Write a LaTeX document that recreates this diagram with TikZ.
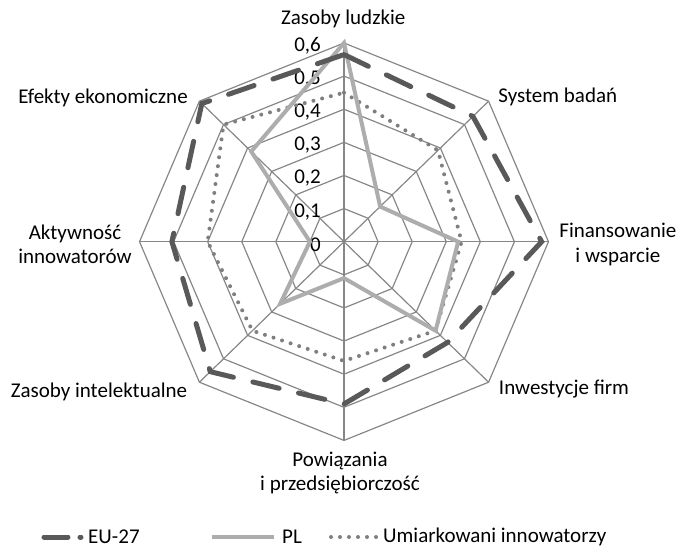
\documentclass[tikz,border=0pt]{standalone}
\usepackage{fontspec}
\setmainfont{Carlito}
\usepackage{tikz}
\usetikzlibrary{calc,positioning}
\definecolor{gridgray}{HTML}{878787}
\definecolor{eugray}{HTML}{595959}
\definecolor{plgray}{HTML}{ADADAD}
\definecolor{umgray}{HTML}{7F7F7F}

\begin{document}
\begin{tikzpicture}[x=340.8pt,y=331.2pt,
  gridline/.style={draw=gridgray,line width=1.2pt},
  euline/.style={draw=eugray,line width=5pt,dash pattern=on 27pt off 20pt,line cap=round},
  plline/.style={draw=plgray,line width=4pt},
  umline/.style={draw=umgray,line width=4pt,dash pattern=on 0pt off 9pt,line cap=round},
  axlabel/.style={font=\fontsize{21}{24.5}\selectfont,align=center,inner sep=0pt},
  ticklabel/.style={font=\fontsize{21}{24.5}\selectfont,anchor=east,inner sep=0pt}]
\useasboundingbox (-344pt,-306.3pt) rectangle (335pt,241.7pt);
\coordinate (O) at (0,0);
\foreach \i [evaluate=\i as \r using \i/10] in {1,...,6}
  \draw[gridline] (0:\r) -- (45:\r) -- (90:\r) -- (135:\r) -- (180:\r) -- (225:\r) -- (270:\r) -- (315:\r) -- cycle;
\foreach \a in {0,45,...,315}
  \draw[gridline] (O) -- (\a:0.6) coordinate (ax\a);
\foreach \i in {0,...,6}
  \node[ticklabel] (tick\i) at ($(0,\i/10)+(-23pt,-3pt)$) {\ifnum\i=0 0\else 0,\i\fi};
\foreach \v [count=\k from 0] in {0.565,0.535,0.58,0.43,0.49,0.555,0.505,0.59}
  \coordinate (eu\k) at ({90-45*\k}:\v);
\foreach \v [count=\k from 0] in {0.60,0.15,0.335,0.38,0.11,0.265,0.10,0.385}
  \coordinate (pl\k) at ({90-45*\k}:\v);
\foreach \v [count=\k from 0] in {0.45,0.39,0.345,0.38,0.36,0.38,0.40,0.50}
  \coordinate (um\k) at ({90-45*\k}:\v);
\draw[umline] (um0) -- (um1) -- (um2) -- (um3) -- (um4) -- (um5) -- (um6) -- (um7) -- cycle;
\draw[plline] (pl0) -- (pl1) -- (pl2) -- (pl3) -- (pl4) -- (pl5) -- (pl6) -- (pl7) -- cycle;
\draw[euline] (eu0) -- (eu1) -- (eu2) -- (eu3) -- (eu4) -- (eu5) -- (eu6) -- (eu7) -- cycle;
\node[axlabel] (zl) at (-0.7pt,222.7pt) {Zasoby ludzkie};
\node[axlabel] (sb) at (213.8pt,144.4pt) {System badań};
\node[axlabel] (fw) at (273.9pt,-2.7pt) {Finansowanie\\i wsparcie};
\node[axlabel] (if) at (220pt,-147.3pt) {Inwestycje firm};
\node[axlabel] (pp) at (-4pt,-231.3pt) {Powiązania\\i przedsiębiorczość};
\node[axlabel] (zi) at (-245pt,-150pt) {Zasoby intelektualne};
\node[axlabel] (ai) at (-269pt,-2.5pt) {Aktywność\\innowatorów};
\node[axlabel] (ee) at (-241pt,143.4pt) {Efekty ekonomiczne};
\coordinate (leu1) at (-300pt,-295.3pt);
\coordinate (leu2) at (-263pt,-295.3pt);
\coordinate (lpl1) at (-132pt,-295.3pt);
\coordinate (lpl2) at (-70pt,-295.3pt);
\coordinate (lum1) at (-13pt,-295.3pt);
\coordinate (lum2) at (32pt,-295.3pt);
\draw[euline,dash pattern=on 24pt off 12pt] (leu1) -- (leu2);
\draw[plline] (lpl1) -- (lpl2);
\draw[umline] (lum1) -- (lum2);
\node[axlabel,anchor=west,right=7pt of leu2] (teu) {EU-27};
\node[axlabel,anchor=west,right=8pt of lpl2] (tpl) {PL};
\node[axlabel,anchor=west,right=7pt of lum2] (tum) {Umiarkowani innowatorzy};
\end{tikzpicture}
\end{document}
